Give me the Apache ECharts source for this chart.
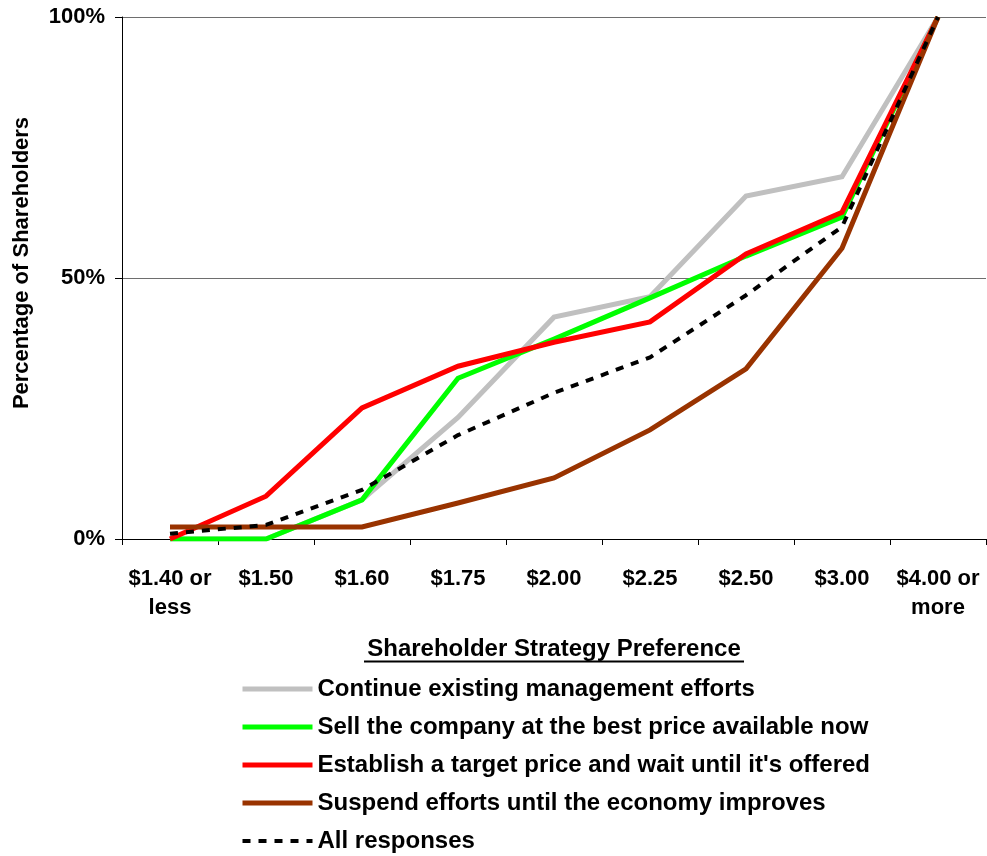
<!DOCTYPE html>
<html>
<head>
<meta charset="utf-8">
<script src="https://cdn.jsdelivr.net/npm/echarts@6/dist/echarts.min.js"></script>
<style>
  html, body { margin: 0; padding: 0; background: #fff; }
  #chart { width: 987px; height: 856px; }
</style>
</head>
<body>
<div id="chart"></div>
<script>
// Price points offered to shareholders
const priceLevels = ['$1.40 or\nless', '$1.50', '$1.60', '$1.75', '$2.00', '$2.25', '$2.50', '$3.00', '$4.00 or\nmore'];

// Cumulative share of shareholders (%) by strategy preference
const continueMgmt = [0, 0, 7.5, 23.3, 42.5, 46.4, 65.7, 69.4, 100];
const sellNow      = [0, 0, 7.5, 30.8, 38.3, 46.2, 54.2, 61.7, 100];
const targetPrice  = [0, 8.2, 25.1, 33.1, 37.7, 41.6, 54.6, 62.6, 100];
const suspend      = [2.3, 2.3, 2.3, 6.9, 11.7, 20.9, 32.6, 55.7, 100];
const allResponses = [1, 2.7, 9.4, 19.9, 28.0, 34.8, 46.7, 59.8, 100];

const yTicks = [0, 50, 100];

const FONT = '"Liberation Sans", Arial, sans-serif';

const chart = echarts.init(document.getElementById('chart'), null, { renderer: 'canvas' });

function lineSeries(name, data, color, width, type) {
  return {
    name: name,
    type: 'line',
    data: data,
    symbol: 'none',
    smooth: false,
    lineStyle: { color: color, width: width, type: type || 'solid', cap: 'butt', join: 'miter' },
    itemStyle: { color: color },
    emphasis: { disabled: true },
    animation: false
  };
}

chart.setOption({
  backgroundColor: '#ffffff',
  animation: false,
  grid: { left: 122, right: 1, top: 17, bottom: 317, containLabel: false },
  xAxis: {
    type: 'category',
    data: priceLevels,
    boundaryGap: true,
    axisLine: { lineStyle: { color: '#000', width: 1 } },
    axisTick: { show: true, length: 6, lineStyle: { color: '#000' } },
    axisLabel: {
      margin: 25,
      color: '#000',
      fontFamily: FONT,
      fontWeight: 'bold',
      fontSize: 22,
      lineHeight: 29,
      interval: 0
    },
    splitLine: { show: false }
  },
  yAxis: {
    type: 'value',
    min: yTicks[0],
    max: yTicks[yTicks.length - 1],
    interval: yTicks[1] - yTicks[0],
    axisLine: { show: true, lineStyle: { color: '#000', width: 1 } },
    axisTick: { show: true, length: 7, lineStyle: { color: '#000' } },
    axisLabel: {
      margin: 17,
      color: '#000',
      fontFamily: FONT,
      fontWeight: 'bold',
      fontSize: 22,
      formatter: '{value}%'
    },
    splitLine: { show: true, lineStyle: { color: '#6e6e6e', width: 1 } }
  },
  legend: {
    orient: 'vertical',
    left: 235,
    top: 672,
    height: 200,
    itemWidth: 70,
    itemHeight: 14,
    itemGap: 14,
    selectedMode: false,
    itemStyle: { opacity: 0 },
    lineStyle: { width: 'inherit' },
    textStyle: {
      color: '#000',
      fontFamily: FONT,
      fontWeight: 'bold',
      fontSize: 24,
      lineHeight: 24
    },
    data: [
      'Continue existing management efforts',
      'Sell the company at the best price available now',
      "Establish a target price and wait until it's offered",
      'Suspend efforts until the economy improves',
      'All responses'
    ]
  },
  graphic: [
    {
      type: 'text',
      x: 22,
      y: 263,
      rotation: Math.PI / 2,
      style: {
        text: 'Percentage of Shareholders',
        fill: '#000',
        font: 'bold 22px ' + FONT,
        textAlign: 'center',
        textVerticalAlign: 'middle'
      }
    },
    {
      type: 'text',
      x: 554,
      y: 649,
      style: {
        text: 'Shareholder Strategy Preference',
        fill: '#000',
        font: 'bold 24px ' + FONT,
        textAlign: 'center',
        textVerticalAlign: 'middle'
      }
    },
    {
      type: 'line',
      shape: { x1: 364, y1: 661.5, x2: 744, y2: 661.5 },
      style: { stroke: '#000', lineWidth: 2 }
    }
  ],
  series: [
    lineSeries('Continue existing management efforts', continueMgmt, '#c0c0c0', 5),
    lineSeries('Sell the company at the best price available now', sellNow, '#00ff00', 5),
    lineSeries("Establish a target price and wait until it's offered", targetPrice, '#ff0000', 5),
    lineSeries('Suspend efforts until the economy improves', suspend, '#993300', 5),
    lineSeries('All responses', allResponses, '#000000', 4, [8, 8])
  ]
});
</script>
</body>
</html>
